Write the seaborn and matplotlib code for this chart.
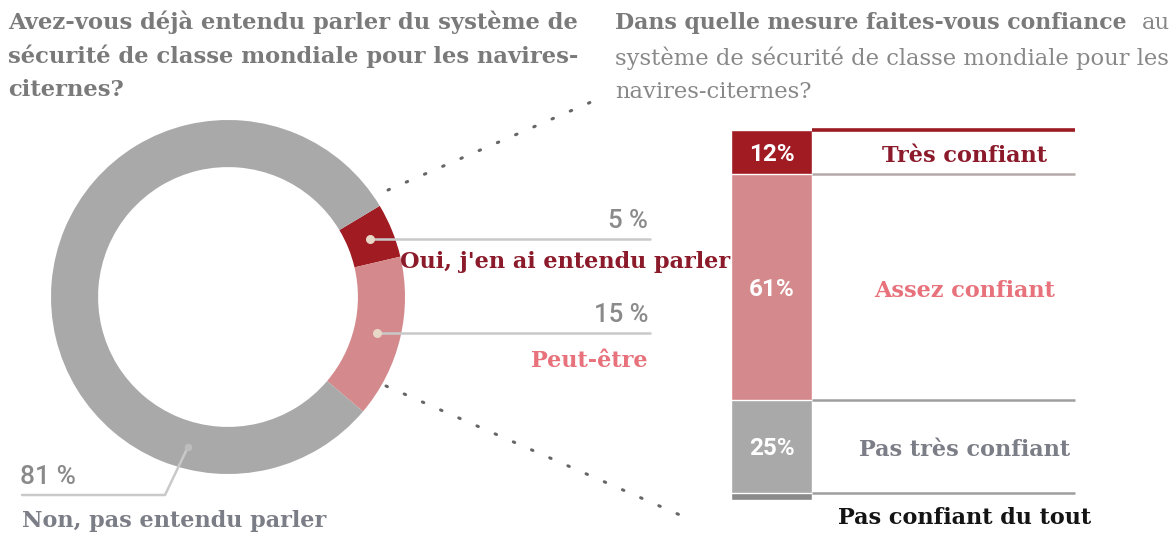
import numpy as np
import matplotlib
matplotlib.use("Agg")
import matplotlib.pyplot as plt
import seaborn as sns

# ---------------------------
# DATA
# ---------------------------
donut_labels = ["Oui, j'en ai entendu parler", "Peut-être", "Non, pas entendu parler"]
donut_values = [5, 15, 81]
donut_colors = ["#a01b22", "#d4898c", "#a9a9a9"]

conf_labels = ["Très confiant", "Assez confiant", "Pas très confiant", "Pas confiant du tout"]
conf_values = [12, 61, 25, 2]
conf_colors = ["#a01b22", "#d4898c", "#a9a9a9", "#8a8a8a"]
conf_text_colors = ["#8b1a2a", "#e8727c", "#7b7e86", "#141414"]

title_left = ["Avez-vous déjà entendu parler du système de",
              "sécurité de classe mondiale pour les navires-",
              "citernes?"]
title_right_bold = "Dans quelle mesure faites-vous confiance"
title_right = ["au", "système de sécurité de classe mondiale pour les", "navires-citernes?"]

# ---------------------------
# FIGURE
# ---------------------------
sns.set_theme(style="white")
W, H = 1174, 534
fig = plt.figure(figsize=(W / 100, H / 100), dpi=100)
SERIF = "DejaVu Serif"
SANS = "Roboto"
LAB_FS = 16.1

# donut geometry (pixels)
CX, CY, R = 228, 297, 177
ring = 0.266

ax_pie = fig.add_axes([(CX - R) / W, 1 - (CY + R) / H, 2 * R / W, 2 * R / H])
wedges, _ = ax_pie.pie(donut_values, colors=donut_colors, startangle=31, counterclock=False,
                       radius=1, wedgeprops=dict(width=ring, edgecolor="none"))
ax_pie.set_xlim(-1, 1)
ax_pie.set_ylim(-1, 1)
ax_pie.axis("off")

# overlay in pixel coords for leaders and texts
ov = fig.add_axes([0, 0, 1, 1], zorder=5)
ov.set_xlim(0, W)
ov.set_ylim(H, 0)
ov.axis("off")
ov.patch.set_alpha(0)


def ring_point(angle, r=1 - ring / 2):
    a = np.deg2rad(angle)
    return CX + R * r * np.cos(a), CY - R * r * np.sin(a)


# leaders for red and pink wedges
pct_color = "#8a8a8a"
for i, (w, val, lab, tcol) in enumerate(zip(wedges[:2], donut_values[:2], donut_labels[:2],
                                            ["#8b1a2a", "#e8727c"])):
    mid = (w.theta1 + w.theta2) / 2
    x0, y0 = ring_point(mid)
    ov.plot([x0, 650], [y0, y0], color="#c9c9c9", lw=1.8, zorder=4)
    ov.scatter([x0], [y0], s=30, color="#e8d8c8", zorder=6)
    ov.text(648, y0 - 6, f"{val} %", ha="right", va="bottom", fontsize=18.5,
            color=pct_color, family=SANS, weight="medium")
    if i == 0:
        ov.text(400, y0 + 23, lab, ha="left", va="center", fontsize=LAB_FS,
                color=tcol, family=SERIF, weight="bold")
    else:
        ov.text(648, y0 + 28, lab, ha="right", va="center", fontsize=LAB_FS,
                color=tcol, family=SERIF, weight="bold")

# leader for grey wedge
gx, gy = ring_point(-105, 0.88)
ov.plot([22, 165, gx], [495, 495, gy], color="#c9c9c9", lw=1.8)
ov.scatter([gx], [gy], s=20, color="#bdbdbd", zorder=6)
ov.text(20, 489, f"{donut_values[2]} %", ha="left", va="bottom", fontsize=19,
        color=pct_color, family=SANS, weight="medium")
ov.text(22, 521, donut_labels[2], ha="left", va="center", fontsize=LAB_FS,
        color="#7b7e86", family=SERIF, weight="bold")

# dotted connectors towards the bar
dots = dict(color="#666666", lw=2.2, linestyle=(0, (0.5, 6)), dash_capstyle="round")
ov.plot([388, 605], [190, 96], **dots)
ov.plot([386, 680], [386, 515], **dots)

# titles
for i, line in enumerate(title_left):
    ov.text(8, 22 + i * 34, line, ha="left", va="center", fontsize=16.3,
            color="#7a7a7a", family=SERIF, weight="bold")
ov.text(615, 23, title_right_bold, ha="left", va="center", fontsize=15.8,
        color="#7a7a7a", family=SERIF, weight="bold")
ov.text(1170, 23, title_right[0], ha="right", va="center", fontsize=16.3,
        color="#888888", family=SERIF)
for i, line in enumerate(title_right[1:]):
    ov.text(615, 58 + i * 34, line, ha="left", va="center", fontsize=16.3,
            color="#888888", family=SERIF)

# ---------------------------
# STACKED BAR
# ---------------------------
BL, BR, BT, BB = 731, 1075, 130, 500
bar_px = 81
ax_bar = fig.add_axes([BL / W, 1 - BB / H, (BR - BL) / W, (BB - BT) / H])
tops = np.cumsum(conf_values[::-1])[::-1]      # top of each segment
bottoms = np.append(tops[1:], 0)
for top, col in zip(tops, conf_colors):
    sns.barplot(x=["q"], y=[top], color=col, saturation=1, width=0.8, ax=ax_bar)

xmax = -0.4 + (BR - BL) * 0.8 / bar_px
ax_bar.set_xlim(-0.4, xmax)
ax_bar.set_ylim(0, 100)
ax_bar.set_axis_off()

line_cols = ["#9b1b22", "#b5a9a9", "#9e9e9e", "#9e9e9e"]
for top, lc, lw in zip(tops, line_cols, [2.6, 1.8, 1.8, 1.8]):
    ax_bar.hlines(top, 0.4, xmax, color=lc, lw=lw, clip_on=False)

xlab = -0.4 + (965 - BL) * 0.8 / bar_px
for i, (lab, val, top, bot, tc) in enumerate(zip(conf_labels, conf_values, tops, bottoms, conf_text_colors)):
    mid = (top + bot) / 2
    if i < 3:
        ax_bar.text(0, mid - 0.5, f"{val}%", ha="center", va="center", color="white",
                    fontsize=17.5, family=SANS, weight="bold")
        ax_bar.text(xlab, mid - 1, lab, ha="center", va="center", color=tc,
                    fontsize=LAB_FS, family=SERIF, weight="bold")
    else:
        ax_bar.text(xlab, -5, lab, ha="center", va="center", color=tc,
                    fontsize=LAB_FS, family=SERIF, weight="bold", clip_on=False)

fig.savefig("out.png", dpi=100, facecolor="white")
